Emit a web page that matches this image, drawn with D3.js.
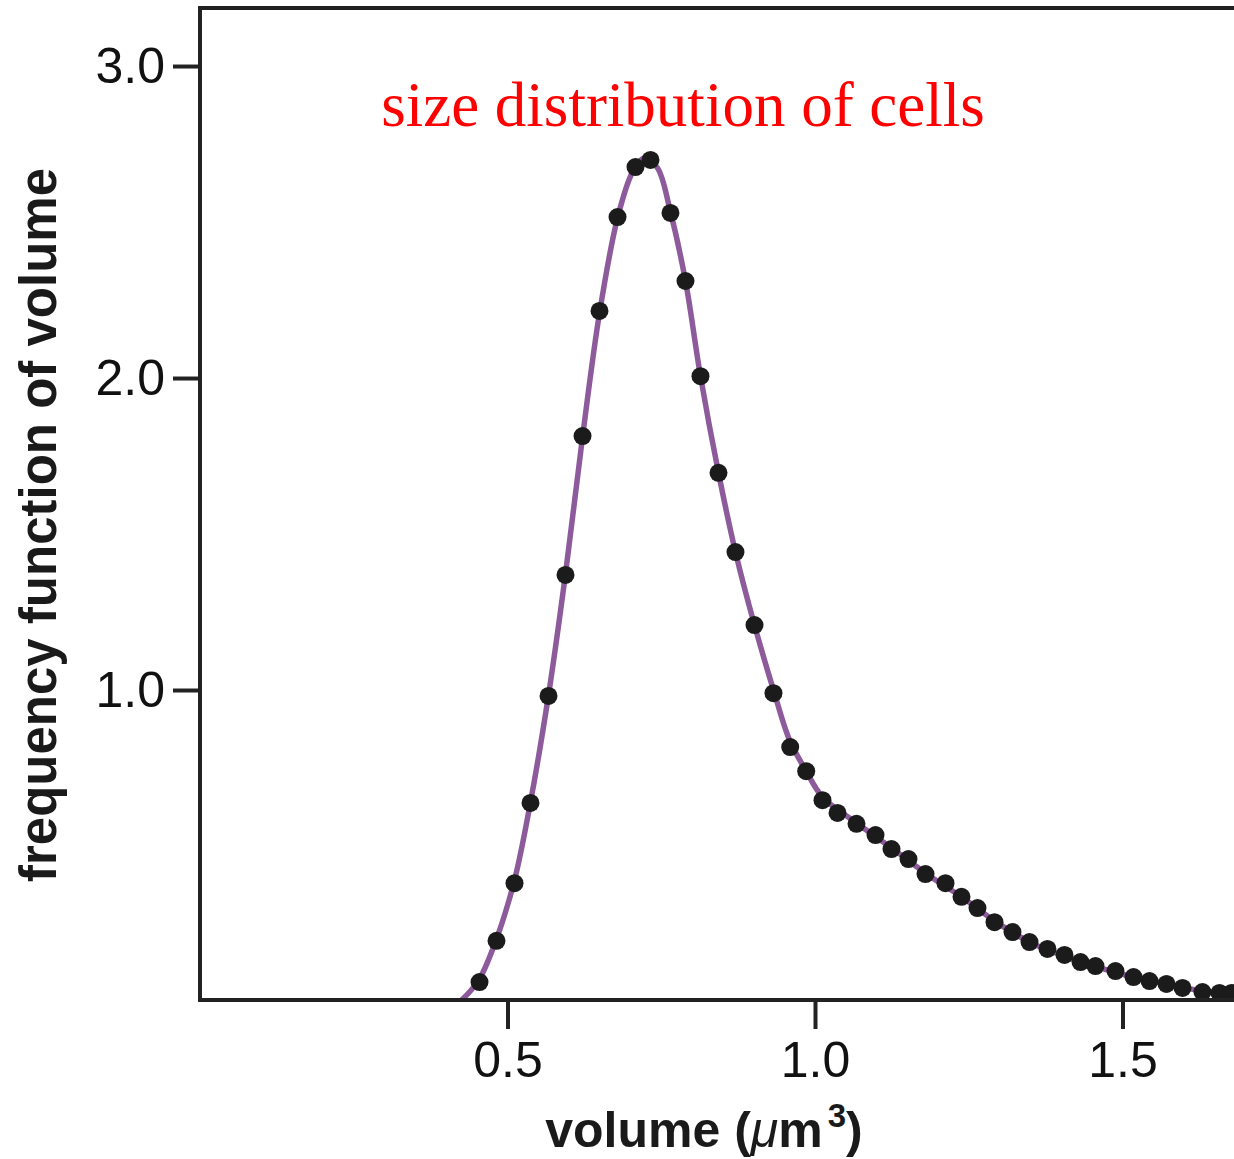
<!DOCTYPE html>
<html>
<head>
<meta charset="utf-8">
<script src="https://cdn.jsdelivr.net/npm/d3@7"></script>
<style>
  html, body { margin: 0; padding: 0; background: #fff; }
  svg { display: block; }
</style>
</head>
<body>
<div id="chart"></div>
<script>
// measured points (volume in um^3, frequency)
var dotVolume = [0.4545, 0.4821, 0.5114, 0.5374, 0.5667, 0.5943, 0.622, 0.6496, 0.6789, 0.7081,
    0.7325, 0.765, 0.7894, 0.8138, 0.8431, 0.8707, 0.9016, 0.9325, 0.9597, 0.9857,
    1.0122, 1.0366, 1.0675, 1.0984, 1.1244, 1.152, 1.1797, 1.2122, 1.2382, 1.2642,
    1.2919, 1.3211, 1.3488, 1.378, 1.4057, 1.4317, 1.4561, 1.4886, 1.5179, 1.5439,
    1.5715, 1.5976, 1.63, 1.6577, 1.6772];
var dotFreq = [0.064, 0.196, 0.381, 0.638, 0.981, 1.369, 1.814, 2.215, 2.516, 2.676,
    2.699, 2.529, 2.311, 2.006, 1.696, 1.442, 1.208, 0.990, 0.817, 0.740,
    0.647, 0.606, 0.571, 0.535, 0.490, 0.458, 0.410, 0.381, 0.337, 0.301,
    0.256, 0.224, 0.192, 0.170, 0.151, 0.128, 0.115, 0.099, 0.080, 0.067,
    0.058, 0.045, 0.032, 0.029, 0.029];

// fitted curve
var fitVolume = [0.4252, 0.4382, 0.4545, 0.4821, 0.5114, 0.5374, 0.5667, 0.5943, 0.622, 0.6496,
    0.6789, 0.7033, 0.7228, 0.7439, 0.765, 0.7894, 0.8138, 0.8431, 0.8707, 0.9016,
    0.9325, 0.9585, 0.9845, 1.0122, 1.0675, 1.1244, 1.1797, 1.2382, 1.2919, 1.3488,
    1.4057, 1.4593, 1.5179, 1.5715, 1.63, 1.69];
var fitFreq = [0.006, 0.032, 0.074, 0.202, 0.391, 0.641, 0.984, 1.372, 1.811, 2.208,
    2.513, 2.660, 2.705, 2.673, 2.532, 2.311, 2.006, 1.696, 1.442, 1.208,
    1.000, 0.840, 0.744, 0.657, 0.574, 0.494, 0.413, 0.337, 0.260, 0.192,
    0.147, 0.112, 0.080, 0.058, 0.035, 0.022];

var xTicks = [0.5, 1.0, 1.5];
var yTicks = [1.0, 2.0, 3.0];

var titleText = "size distribution of cells";
var yTitle = "frequency function of volume";

var W = 1234, H = 1159;
var margin = {top: 8, right: -40, bottom: 159, left: 200};

var svg = d3.select("#chart")
    .append("svg")
        .attr("width", W)
        .attr("height", H)
    .append("g")
        .attr("transform", "translate(" + margin.left + "," + margin.top + ")");

var x = d3.scaleLinear().domain([0, 1.7]).range([0, 1.7 * 615]);
var y = d3.scaleLinear().domain([0, 3.186]).range([994, 0]);

svg.append("defs").append("clipPath")
    .attr("id", "plotclip")
  .append("rect")
    .attr("x", 0).attr("y", 0)
    .attr("width", W).attr("height", 992);

// fitted line
var line = d3.line()
    .x(function(d) { return x(d[0]); })
    .y(function(d) { return y(d[1]); })
    .curve(d3.curveCatmullRom.alpha(0.5));

svg.append("path")
    .datum(d3.zip(fitVolume, fitFreq))
    .attr("clip-path", "url(#plotclip)")
    .attr("fill", "none")
    .attr("stroke", "#8d5a9b")
    .attr("stroke-width", 5.5)
    .attr("d", line);

// dots
svg.selectAll("circle.dot")
    .data(d3.zip(dotVolume, dotFreq))
    .enter().append("circle")
    .attr("class", "dot")
    .attr("cx", function(d) { return x(d[0]); })
    .attr("cy", function(d) { return y(d[1]); })
    .attr("r", 9)
    .attr("fill", "#1b1b1b");

// axes
var xAxis = d3.axisBottom(x).tickValues(xTicks).tickSize(29).tickPadding(12)
    .tickFormat(d3.format(".1f"));
var yAxis = d3.axisLeft(y).tickValues(yTicks).tickSize(27).tickPadding(8)
    .tickFormat(d3.format(".1f"));

var gx = svg.append("g")
    .attr("transform", "translate(0," + 992 + ")")
    .call(xAxis);
var gy = svg.append("g").call(yAxis);

[gx, gy].forEach(function(g) {
    g.select(".domain").remove();
    g.selectAll(".tick line").attr("stroke", "#222").attr("stroke-width", 4);
    g.selectAll(".tick text")
        .attr("fill", "#111")
        .style("font-family", "'Liberation Sans', Arial, sans-serif")
        .style("font-size", "50px");
});

// frame: left, bottom, top
svg.append("path")
    .attr("d", "M" + (W) + ",0H0V992H" + W)
    .attr("fill", "none")
    .attr("stroke", "#222")
    .attr("stroke-width", 4);

// title
svg.append("text")
    .attr("x", 683 - margin.left)
    .attr("y", 126 - margin.top)
    .attr("text-anchor", "middle")
    .style("font-family", "'Liberation Serif', 'Times New Roman', serif")
    .style("font-size", "63px")
    .attr("fill", "#ff0000")
    .text(titleText);

// x axis title
var xt = svg.append("text")
    .attr("x", 704 - margin.left)
    .attr("y", 1147 - margin.top)
    .attr("text-anchor", "middle")
    .style("font-family", "'Liberation Sans', Arial, sans-serif")
    .style("font-size", "50px")
    .style("font-weight", "bold")
    .attr("fill", "#1a1a1a");
xt.append("tspan").text("volume (");
xt.append("tspan").style("font-style", "italic").style("font-weight", "normal").text("\u03bc");
xt.append("tspan").text("m");
xt.append("tspan").attr("dy", -20).attr("dx", 5).style("font-size", "33px").text("3");
xt.append("tspan").attr("dy", 20).text(")");

// y axis title
svg.append("text")
    .attr("transform", "translate(" + (56 - margin.left) + "," + (525 - margin.top) + ") rotate(-90)")
    .attr("text-anchor", "middle")
    .style("font-family", "'Liberation Sans', Arial, sans-serif")
    .style("font-size", "51px")
    .style("font-weight", "bold")
    .attr("fill", "#1a1a1a")
    .text(yTitle);
</script>
</body>
</html>
